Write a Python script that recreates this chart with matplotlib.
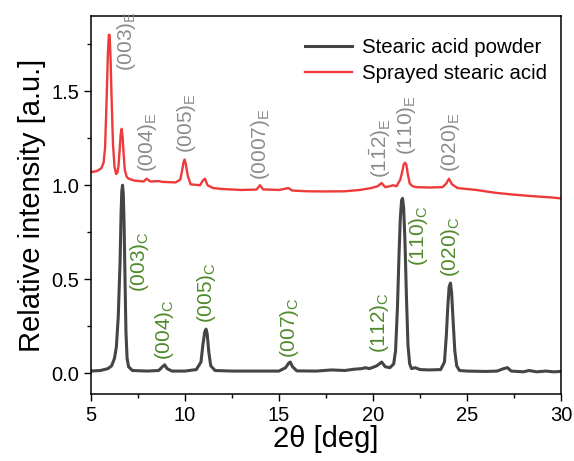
import matplotlib
matplotlib.use('Agg')
import matplotlib.pyplot as plt
from matplotlib.ticker import MultipleLocator

plt.rcParams['font.family'] = ['Liberation Sans', 'DejaVu Sans']
plt.rcParams['mathtext.fontset'] = 'custom'
plt.rcParams['mathtext.rm'] = 'Liberation Sans'
plt.rcParams['mathtext.default'] = 'regular'

# stearic acid powder (black)
powder_x = [5.0, 5.5, 5.9, 6.1, 6.25, 6.35, 6.45, 6.55, 6.6, 6.64, 6.68, 6.72, 6.76, 6.81,
            6.86, 6.92, 7.0, 7.2, 8.0, 8.6, 8.8, 8.92, 9.05, 9.3, 10.0, 10.6, 10.85, 10.95,
            11.05, 11.12, 11.18, 11.27, 11.37, 11.6, 12.5, 15.0, 15.35, 15.52, 15.6, 15.72,
            15.95, 17.0, 17.8, 18.5, 19.0, 19.4, 19.6, 19.8, 20.0, 20.2, 20.46, 20.65, 20.9,
            21.1, 21.2, 21.3, 21.38, 21.45, 21.52, 21.57, 21.63, 21.7, 21.78, 21.86, 21.95,
            22.05, 22.25, 22.5, 23.0, 23.6, 23.8, 23.9, 23.98, 24.05, 24.12, 24.18, 24.26,
            24.35, 24.45, 24.6, 25.0, 26.0, 26.6, 26.95, 27.15, 27.35, 28.0, 28.3, 28.7, 29.2,
            29.6, 30.0]
powder_y = [0.012, 0.015, 0.025, 0.04, 0.08, 0.14, 0.3, 0.6, 0.85, 0.97, 1.0, 0.95, 0.8, 0.5,
            0.22, 0.08, 0.035, 0.015, 0.012, 0.015, 0.035, 0.045, 0.025, 0.012, 0.012, 0.02, 0.06, 0.15,
            0.22, 0.235, 0.21, 0.11, 0.04, 0.015, 0.012, 0.012, 0.03, 0.055, 0.06, 0.035,
            0.013, 0.012, 0.018, 0.015, 0.022, 0.025, 0.03, 0.025, 0.032, 0.04, 0.06, 0.035, 0.03,
            0.05, 0.12, 0.35, 0.62, 0.82, 0.92, 0.93, 0.88, 0.7, 0.4, 0.15, 0.05,
            0.025, 0.03, 0.02, 0.018, 0.02, 0.06, 0.2, 0.36, 0.46, 0.48, 0.43, 0.28,
            0.12, 0.04, 0.015, 0.012, 0.01, 0.012, 0.025, 0.03, 0.012, 0.008, 0.015, 0.008, 0.012,
            0.008, 0.01]

# sprayed stearic acid (red)
spray_x = [5.0, 5.3, 5.55, 5.67, 5.75, 5.83, 5.9, 5.95, 5.99, 6.04, 6.1, 6.17, 6.25, 6.33,
           6.4, 6.46, 6.52, 6.58, 6.63, 6.68, 6.74, 6.8, 6.9, 7.0, 7.3, 7.8, 7.96, 8.15, 8.6,
           8.8, 9.5, 9.75, 9.85, 9.93, 9.98, 10.05, 10.15, 10.3, 10.8, 10.95, 11.06, 11.2,
           11.5, 12.0, 13.0, 13.8, 13.99, 14.15, 15.0, 15.5, 15.7, 16.5, 17.5, 18.5, 19.3,
           19.9, 20.25, 20.46, 20.65, 20.9, 21.05, 21.25, 21.45, 21.55, 21.63, 21.7, 21.77,
           21.85, 21.95, 22.1, 22.3, 23.0, 23.7, 23.9, 24.04, 24.2, 24.5, 25.5, 26.5, 27.5,
           28.5, 29.5, 30.0]
spray_y = [1.07, 1.075, 1.09, 1.12, 1.2, 1.45, 1.7, 1.8, 1.8, 1.68, 1.45, 1.22, 1.1, 1.06,
           1.065, 1.1, 1.18, 1.27, 1.3, 1.26, 1.16, 1.08, 1.045, 1.035, 1.025, 1.02, 1.035, 1.02, 1.022,
           1.018, 1.015, 1.03, 1.08, 1.125, 1.137, 1.11, 1.05, 1.005, 1.0, 1.025, 1.035, 1.0,
           0.985, 0.98, 0.975, 0.977, 1.0, 0.978, 0.975, 0.985, 0.972, 0.968, 0.967, 0.968, 0.975,
           0.985, 0.995, 1.012, 0.99, 0.995, 1.0, 0.995, 1.03, 1.07, 1.11, 1.12, 1.11,
           1.06, 1.01, 0.995, 0.99, 0.988, 0.99, 1.01, 1.035, 1.005, 0.985, 0.975, 0.96, 0.95,
           0.942, 0.935, 0.93]

# peak labels: (text, x, y)
labels_E = [('(003)$_E$', 6.88, 1.61), ('(004)$_E$', 8.03, 1.07), ('(005)$_E$', 10.08, 1.17),
            ('(0007)$_E$', 14.03, 1.03), (r'(1$\bar{1}$2)$_E$', 20.37, 1.04),
            ('(110)$_E$', 21.8, 1.16), ('(020)$_E$', 24.1, 1.07)]
labels_C = [('(003)$_C$', 7.6, 0.434), ('(004)$_C$', 8.9, 0.07), ('(005)$_C$', 11.15, 0.27),
            ('(007)$_C$', 15.58, 0.08), ('(112)$_C$', 20.37, 0.107),
            ('(110)$_C$', 22.4, 0.57), ('(020)$_C$', 24.13, 0.51)]

fig = plt.figure(figsize=(5.74, 4.61), dpi=100)
ax = fig.add_axes([0.1585, 0.1453, 0.8189, 0.82])

ax.plot(powder_x, powder_y, color='#454545', lw=2.2, label='Stearic acid powder')
ax.plot(spray_x, spray_y, color='#ee3a3a', lw=1.7, label='Sprayed stearic acid')

for t, x, y in labels_E:
    ax.text(x, y, t, rotation=90, ha='center', va='bottom', fontsize=15, color='#8c8c8c')
for t, x, y in labels_C:
    ax.text(x, y, t, rotation=90, ha='center', va='bottom', fontsize=15, color='#4f8a2b')

ax.set_xlim(5, 30)
ax.set_ylim(-0.11, 1.9)
ax.xaxis.set_major_locator(MultipleLocator(5))
ax.xaxis.set_minor_locator(MultipleLocator(2.5))
ax.yaxis.set_major_locator(MultipleLocator(0.5))
ax.yaxis.set_minor_locator(MultipleLocator(0.25))
ax.tick_params(which='major', length=5, width=1, labelsize=14.5)
ax.tick_params(which='minor', length=3, width=1)
for s in ax.spines.values():
    s.set_linewidth(1.1)

ax.set_xlabel('2θ [deg]', fontsize=21, labelpad=0)
ax.set_ylabel('Relative intensity [a.u.]', fontsize=21, labelpad=4)

ax.legend(loc='upper right', bbox_to_anchor=(1.0, 0.98), frameon=False, fontsize=14.7,
          handlelength=2.3, borderaxespad=0.3, labelspacing=0.35, handletextpad=0.5)

fig.savefig('out.png', dpi=100)
